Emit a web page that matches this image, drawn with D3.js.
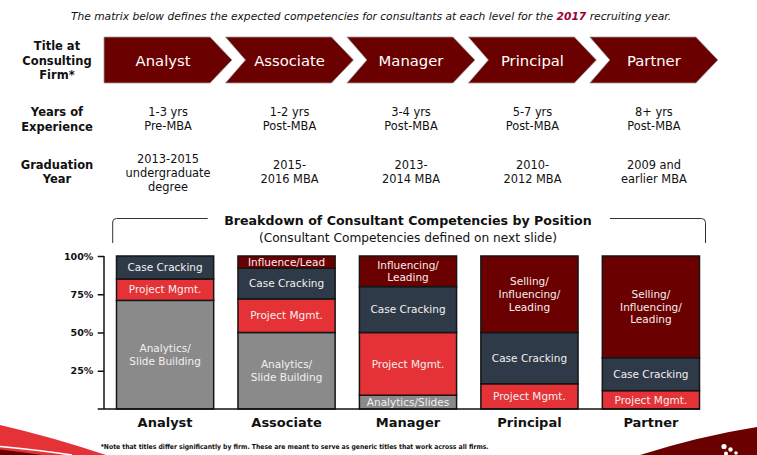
<!DOCTYPE html>
<html>
<head>
<meta charset="utf-8">
<script src="https://cdn.jsdelivr.net/npm/d3@7"></script>
<style>
  html, body { margin: 0; padding: 0; background: #fff; }
  svg { display: block; }
  text { font-family: "DejaVu Sans", Verdana, sans-serif; }
</style>
</head>
<body>
<svg id="chart" width="757" height="455"></svg>
<script>
// ---------------- DATA ----------------
const positions = ["Analyst", "Associate", "Manager", "Principal", "Partner"];
const experienceLines = [["1-3 yrs", "Pre-MBA"], ["1-2 yrs", "Post-MBA"], ["3-4 yrs", "Post-MBA"], ["5-7 yrs", "Post-MBA"], ["8+ yrs", "Post-MBA"]];
const graduationLines = [["2013-2015", "undergraduate", "degree"], ["2015-", "2016 MBA"], ["2013-", "2014 MBA"], ["2010-", "2012 MBA"], ["2009 and", "earlier MBA"]];
const rowLabels = [["Title at", "Consulting", "Firm*"], ["Years of", "Experience"], ["Graduation", "Year"]];

const competencyKeys = ["analytics", "project", "case", "influence"];
// share of time (%) per position, bottom to top
const analyticsValues = [71, 50, 9, 0, 0];
const projectValues   = [14, 22, 41, 16.5, 12];
const caseValues      = [15, 20, 30, 33.5, 21.5];
const influenceValues = [0, 8, 20, 50, 66.5];

const analyticsLabels = [["Analytics/", "Slide Building"], ["Analytics/", "Slide Building"], ["Analytics/Slides"], [], []];
const projectLabels   = [["Project Mgmt."], ["Project Mgmt."], ["Project Mgmt."], ["Project Mgmt."], ["Project Mgmt."]];
const caseLabels      = [["Case Cracking"], ["Case Cracking"], ["Case Cracking"], ["Case Cracking"], ["Case Cracking"]];
const influenceLabels = [[], ["Influence/Lead"], ["Influencing/", "Leading"], ["Selling/", "Influencing/", "Leading"], ["Selling/", "Influencing/", "Leading"]];

const yTicks = [0.25, 0.5, 0.75, 1];

const introText = ["The matrix below defines the expected competencies for consultants at each level for the ", "2017", " recruiting year."];
const chartTitle = "Breakdown of Consultant Competencies by Position";
const chartSubtitle = "(Consultant Competencies defined on next slide)";
const footnote = "*Note that titles differ significantly by firm.  These are meant to serve as generic titles that work across all firms.";

// ---------------- BUILD ----------------
const valuesByKey = { analytics: analyticsValues, project: projectValues, case: caseValues, influence: influenceValues };
const labelsByKey = { analytics: analyticsLabels, project: projectLabels, case: caseLabels, influence: influenceLabels };
const colors = { analytics: "#8a8a8a", project: "#e53236", case: "#2e3a48", influence: "#6b0000" };

const table = positions.map((p, i) => {
  const row = { position: p };
  competencyKeys.forEach(k => row[k] = valuesByKey[k][i] / 100);
  return row;
});

const svg = d3.select("#chart");

const x = d3.scaleBand().domain(positions).range([116.5, 699.5]).paddingInner(0.2).paddingOuter(0);
const y = d3.scaleLinear().domain([0, 1]).range([409, 256]);
const bw = x.bandwidth();
const colCenter = p => x(p) + bw / 2 + 3;

// intro line
const intro = svg.append("text")
  .attr("x", 371).attr("y", 20)
  .attr("text-anchor", "middle")
  .attr("font-size", 10.7).attr("font-style", "italic").attr("fill", "#111");
introText.forEach((t, i) => {
  intro.append("tspan").text(t)
    .attr("font-weight", i === 1 ? "bold" : "normal")
    .attr("fill", i === 1 ? "#9b0033" : "#111");
});

// row labels
const rowBaselines = [[50, 64.5, 78.5], [116, 130.5], [169, 183]];
rowLabels.forEach((lines, r) => {
  lines.forEach((l, j) => {
    svg.append("text").text(l)
      .attr("x", 57).attr("y", rowBaselines[r][j])
      .attr("text-anchor", "middle")
      .attr("font-size", 11.5).attr("font-weight", "bold").attr("fill", "#111");
  });
});

// chevrons
const chevTop = 37, chevBot = 83, chevMid = 60;
positions.forEach((p, i) => {
  const L = x(p) - 12.5;
  const pts = [[L, chevTop], [L + 106, chevTop], [L + 128, chevMid], [L + 106, chevBot], [L, chevBot]];
  if (i > 0) pts.push([L + 20, chevMid]);
  svg.append("polygon")
    .attr("points", pts.map(d => d.join(",")).join(" "))
    .attr("fill", "#6b0000").attr("stroke", "#9a9a9a").attr("stroke-width", 0.8);
  svg.append("text").text(p)
    .attr("x", colCenter(p) + (i === 0 ? -5 : 0)).attr("y", 65.5)
    .attr("text-anchor", "middle")
    .attr("font-size", 14.8).attr("fill", "#fff");
});

// experience & graduation rows
positions.forEach((p, i) => {
  experienceLines[i].forEach((l, j) => {
    svg.append("text").text(l)
      .attr("x", colCenter(p)).attr("y", 116 + j * 14.3)
      .attr("text-anchor", "middle").attr("font-size", 11.4).attr("fill", "#111");
  });
  const g = graduationLines[i];
  const start = g.length === 3 ? 162.5 : 169;
  g.forEach((l, j) => {
    svg.append("text").text(l)
      .attr("x", colCenter(p)).attr("y", start + j * 14.2)
      .attr("text-anchor", "middle").attr("font-size", 11.4).attr("fill", "#111");
  });
});

// chart title + bracket
svg.append("text").text(chartTitle)
  .attr("x", 408).attr("y", 225).attr("text-anchor", "middle")
  .attr("font-size", 12.6).attr("font-weight", "bold").attr("fill", "#111");
svg.append("text").text(chartSubtitle)
  .attr("x", 408).attr("y", 242).attr("text-anchor", "middle")
  .attr("font-size", 12.2).attr("fill", "#111");
svg.append("path")
  .attr("d", "M112.7,243 V222 Q112.7,218.5 116.5,218.5 H207.7")
  .attr("fill", "none").attr("stroke", "#333").attr("stroke-width", 1);
svg.append("path")
  .attr("d", "M610,218.5 H701.5 Q705.5,218.5 705.5,222.5 V243")
  .attr("fill", "none").attr("stroke", "#333").attr("stroke-width", 1);

// stacked bars
const stack = d3.stack().keys(competencyKeys);
const layers = stack(table);

layers.forEach(layer => {
  const key = layer.key;
  layer.forEach((d, i) => {
    const p = positions[i];
    if (d[1] - d[0] <= 0) return;
    svg.append("rect")
      .attr("x", x(p)).attr("y", y(d[1]))
      .attr("width", bw).attr("height", y(d[0]) - y(d[1]))
      .attr("fill", colors[key]).attr("stroke", "#151515").attr("stroke-width", 1.5);
  });
});
layers.forEach(layer => {
  const key = layer.key;
  layer.forEach((d, i) => {
    const p = positions[i];
    const lines = labelsByKey[key][i];
    if (d[1] - d[0] <= 0 || !lines.length) return;
    const cy = (y(d[0]) + y(d[1])) / 2;
    const lh = 12.6;
    lines.forEach((l, j) => {
      svg.append("text").text(l)
        .attr("x", x(p) + bw / 2)
        .attr("y", cy + (j - (lines.length - 1) / 2) * lh + 3.8)
        .attr("text-anchor", "middle")
        .attr("font-size", 10.5).attr("fill", "#f4efef");
    });
  });
});

// y axis
const yAxis = d3.axisLeft(y).tickValues(yTicks).tickFormat(d3.format(".0%")).tickSize(6.3).tickPadding(4.4);
const gy = svg.append("g").attr("transform", "translate(104,0)").call(yAxis);
gy.select(".domain").attr("stroke", "#111").attr("stroke-width", 1.5).attr("d", `M0,${y(1)}V${y(0)}`);
gy.selectAll(".tick line").attr("stroke", "#111").attr("stroke-width", 1.5);
gy.selectAll(".tick text").attr("font-family", "DejaVu Sans, sans-serif").attr("font-size", 9.5).attr("font-weight", "bold").attr("fill", "#111");
svg.append("line").attr("x1", 97.7).attr("x2", 700).attr("y1", y(0)).attr("y2", y(0))
  .attr("stroke", "#111").attr("stroke-width", 1.5);

// x labels
const xAxis = d3.axisBottom(x).tickSize(0).tickPadding(0);
const gx = svg.append("g").attr("transform", `translate(0,${y(0)})`).call(xAxis);
gx.select(".domain").remove();
gx.selectAll(".tick text").attr("dy", 0).attr("y", 18)
  .attr("font-family", "DejaVu Sans, sans-serif").attr("font-size", 13).attr("font-weight", "bold").attr("fill", "#111");

// footnote
svg.append("text").text(footnote)
  .attr("x", 100.7).attr("y", 449)
  .attr("font-family", "Noto Sans, sans-serif")
  .attr("font-size", 6.8).attr("font-weight", "bold").attr("fill", "#111")
  .attr("textLength", 388).attr("lengthAdjust", "spacingAndGlyphs");

// decorative swooshes
svg.append("path").attr("d", "M0,425 Q52,437 106,455 L0,455 Z").attr("fill", "#e53236");
svg.append("path").attr("d", "M0,446.5 Q38,450 72,455").attr("fill", "none").attr("stroke", "#fff").attr("stroke-width", 1.6);
svg.append("path").attr("d", "M0,449.5 Q22,452 42,455 L0,455 Z").attr("fill", "#6b0000");
svg.append("path").attr("d", "M640,455 Q700,436 757,427 L757,455 Z").attr("fill", "#6b0000");
[[724, 446.5, 2.6], [730.5, 449.5, 2.2], [726, 453.5, 2], [736, 453, 1.8]].forEach(c => {
  svg.append("circle").attr("cx", c[0]).attr("cy", c[1]).attr("r", c[2]).attr("fill", "#fff");
});
</script>
</body>
</html>
